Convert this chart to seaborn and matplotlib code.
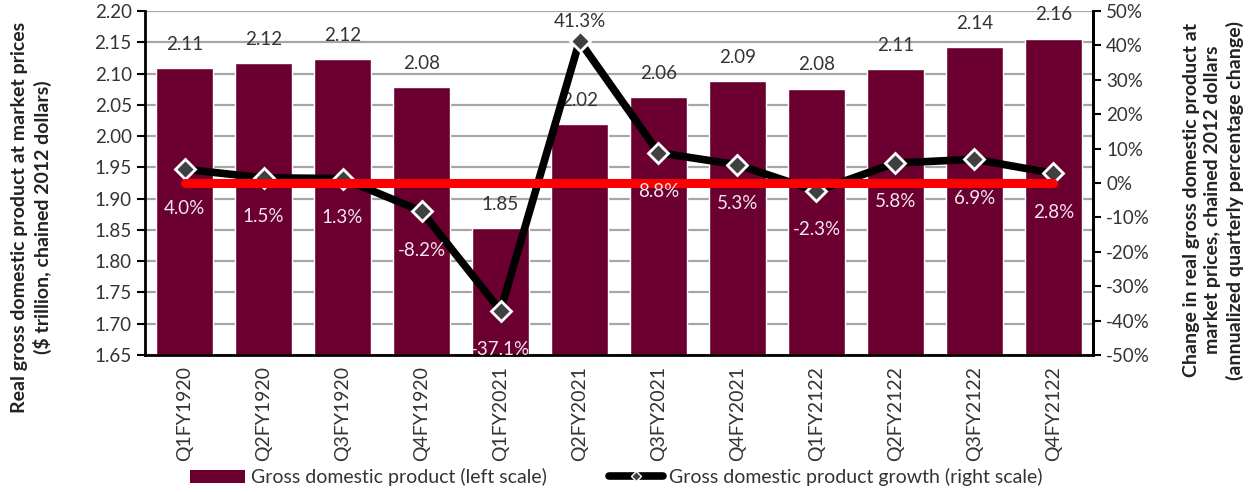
import numpy as np
import pandas as pd
import matplotlib
matplotlib.use("Agg")
import matplotlib.pyplot as plt
import seaborn as sns
from matplotlib.lines import Line2D
from matplotlib.patches import Patch

quarters = ["Q1FY1920", "Q2FY1920", "Q3FY1920", "Q4FY1920", "Q1FY2021", "Q2FY2021",
            "Q3FY2021", "Q4FY2021", "Q1FY2122", "Q2FY2122", "Q3FY2122", "Q4FY2122"]
gdp = [2.109, 2.117, 2.123, 2.078, 1.853, 2.019, 2.063, 2.088, 2.076, 2.107, 2.142, 2.156]
growth = [4.0, 1.5, 1.3, -8.2, -37.1, 41.3, 8.8, 5.3, -2.3, 5.8, 6.9, 2.8]

left_ticks = [1.65, 1.70, 1.75, 1.80, 1.85, 1.90, 1.95, 2.00, 2.05, 2.10, 2.15, 2.20]
right_ticks = [-50, -40, -30, -20, -10, 0, 10, 20, 30, 40, 50]

BAR = "#6B0030"
TXT = "#333333"
FS = 13.5
sns.set_theme(style="white")
plt.rcParams["font.family"] = ["Lato", "DejaVu Sans"]

df = pd.DataFrame({"quarter": quarters, "gdp": gdp, "growth": growth})

fig = plt.figure(figsize=(12.58, 4.92), dpi=100)
ax = fig.add_axes([0.1153, 0.2785, 0.7535, 0.6991])

sns.barplot(data=df, x="quarter", y="gdp", color=BAR, saturation=1, width=0.73,
            ax=ax, zorder=2)
ax.set_ylim(1.65, 2.20)
ax.set_xlim(-0.5, len(quarters) - 0.5)
ax.set_yticks(left_ticks)
ax.set_yticklabels([f"{t:.2f}" for t in left_ticks], fontsize=FS, color=TXT)
ax.yaxis.grid(True, color="#A6A6A6", linewidth=1.6, zorder=0)
ax.set_axisbelow(True)
ax.set_xlabel("")
ax.set_ylabel("Real gross domestic product at market prices\n($ trillion, chained 2012 dollars)",
              fontsize=14, fontweight="bold", color="#222222", linespacing=1.3)
ax.yaxis.set_label_coords(-0.098, 0.40)
ax.tick_params(axis="x", labelrotation=90, labelsize=14, colors=TXT, length=0, pad=8)
ax.tick_params(axis="y", direction="out", length=6, width=1.5, color="black", left=True)
for s in ["left", "bottom", "right"]:
    ax.spines[s].set_color("black")
    ax.spines[s].set_linewidth(2)
ax.spines["top"].set_visible(False)

for i, v in enumerate(gdp):
    ax.annotate(f"{v:.2f}", (i, v), xytext=(0, 17), textcoords="offset points",
                ha="center", va="center", fontsize=FS, color=TXT, zorder=5)

ax2 = ax.twinx()
ax2.set_ylim(-50, 50)
ax2.set_yticks(right_ticks)
ax2.set_yticklabels([f"{t}%" for t in right_ticks], fontsize=FS, color=TXT)
ax2.tick_params(axis="y", direction="out", length=6, width=1.5, color="black", right=True)
for s in ["left", "bottom", "top"]:
    ax2.spines[s].set_visible(False)
ax2.spines["right"].set_color("black")
ax2.spines["right"].set_linewidth(2)
ax2.set_ylabel("Change in real gross domestic product at\nmarket prices, chained 2012 dollars\n(annualized quarterly percentage change)",
               fontsize=14, fontweight="bold", color="#222222", linespacing=1.3,
               rotation=90)
ax2.yaxis.set_label_coords(1.095, 0.45)

xpos = np.arange(len(quarters))
sns.lineplot(x=xpos, y=growth, ax=ax2, color="black", linewidth=5.5, marker="D",
             markersize=10, markerfacecolor="#404040", markeredgecolor="white",
             markeredgewidth=2, zorder=3, legend=False)
ax2.plot([xpos[0], xpos[-1]], [0, 0], color="#FF0000", linewidth=6.5,
         solid_capstyle="round", zorder=4)

for i, g in enumerate(growth):
    if g > 30:
        ax2.annotate(f"{g:.1f}%", (i, g), xytext=(0, 14), textcoords="offset points",
                     ha="center", va="center", fontsize=FS, color=TXT, zorder=6)
    else:
        ax2.annotate(f"{g:.1f}%", (i, g), xytext=(0, -28), textcoords="offset points",
                     ha="center", va="center", fontsize=FS, color="#F2E6EC", zorder=6)

handles = [Patch(facecolor=BAR, edgecolor="none"),
           Line2D([0], [0], color="black", linewidth=5.5, marker="D", markersize=5,
                  markerfacecolor="#404040", markeredgecolor="white", markeredgewidth=1)]
labels = ["Gross domestic product (left scale)", "Gross domestic product growth (right scale)"]
fig.legend(handles, labels, loc="center", bbox_to_anchor=(0.49, 0.03), ncol=2,
           frameon=False, fontsize=14, handlelength=2.8, handletextpad=0.3,
           columnspacing=3.2, labelcolor=TXT)

fig.savefig("out.png", dpi=100)
